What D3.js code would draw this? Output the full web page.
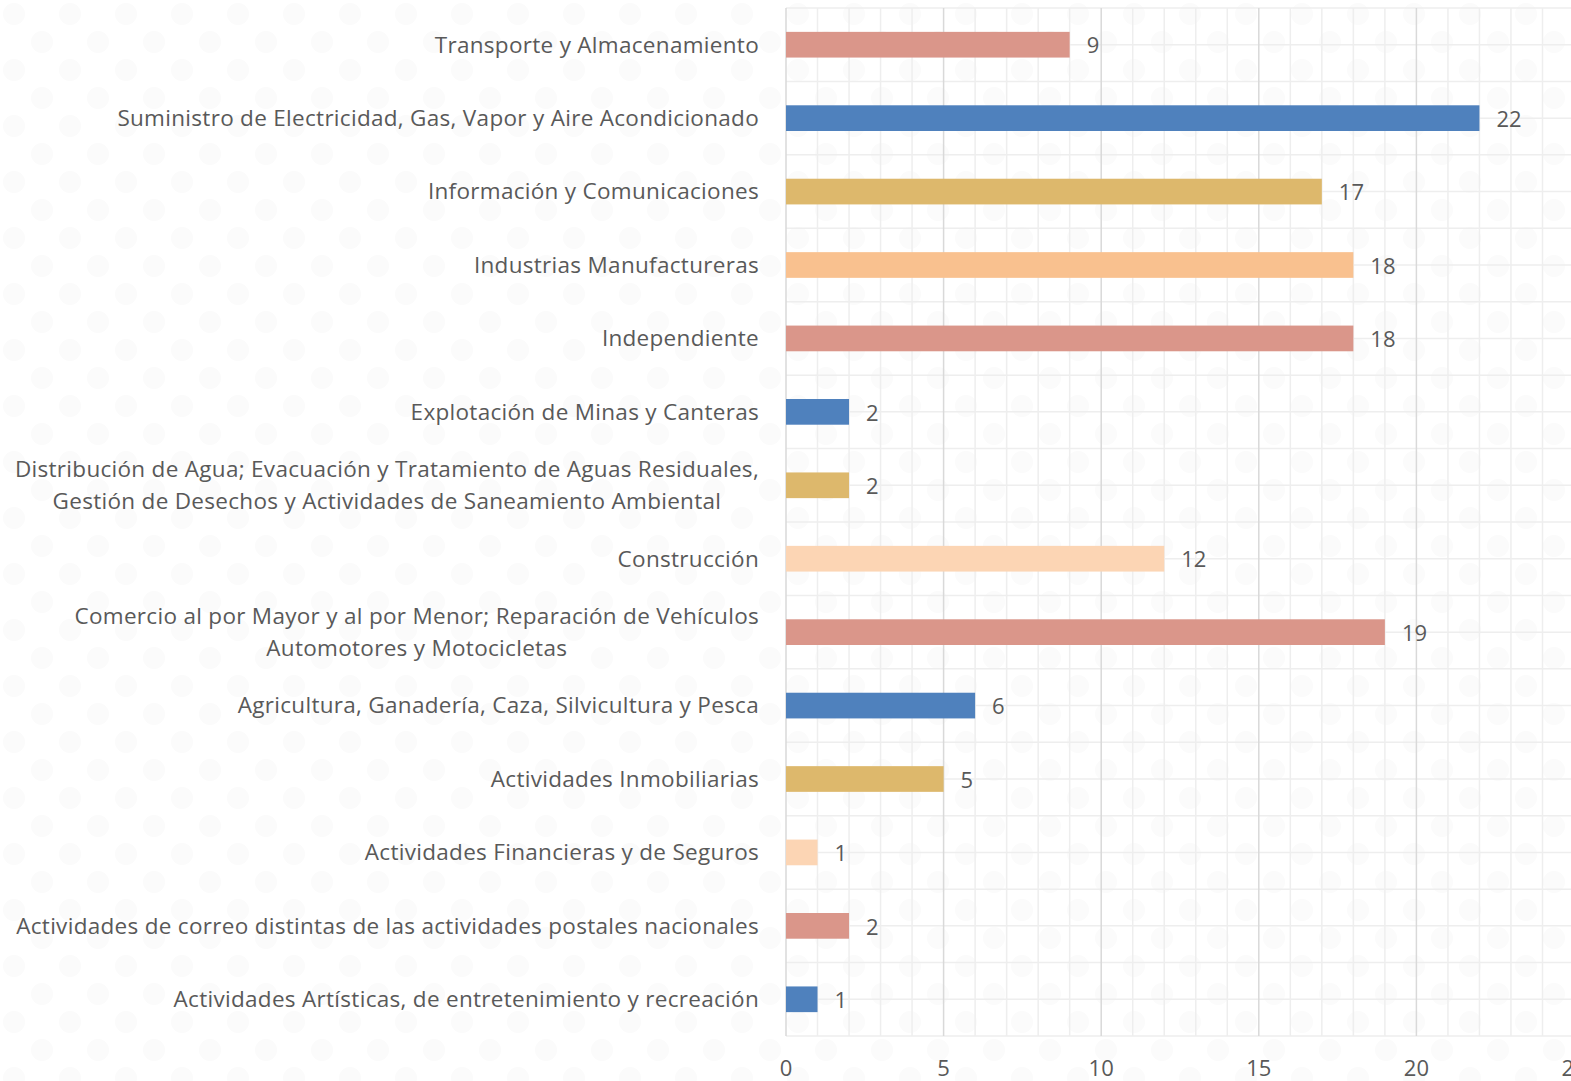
<!DOCTYPE html>
<head>
<meta charset="utf-8">
<title>Sectores</title>
<style>
   body { margin: 0; background: #ffffff; }
   text { font-family: "Open Sans", "Noto Sans", sans-serif; fill: #595959; }
</style>
</head>
<body>
<div id="chartDiv"></div>
<script src="https://d3js.org/d3.v7.min.js"></script>
<script>

   // categories top to bottom, labels split in lines where the original wraps
   var categories = [
	   ["Transporte y Almacenamiento"],
	   ["Suministro de Electricidad, Gas, Vapor y Aire Acondicionado"],
	   ["Información y Comunicaciones"],
	   ["Industrias Manufactureras"],
	   ["Independiente"],
	   ["Explotación de Minas y Canteras"],
	   ["Distribución de Agua; Evacuación y Tratamiento de Aguas Residuales,", "Gestión de Desechos y Actividades de Saneamiento Ambiental"],
	   ["Construcción"],
	   ["Comercio al por Mayor y al por Menor; Reparación de Vehículos", "Automotores y Motocicletas"],
	   ["Agricultura, Ganadería, Caza, Silvicultura y Pesca"],
	   ["Actividades Inmobiliarias"],
	   ["Actividades Financieras y de Seguros"],
	   ["Actividades de correo distintas de las actividades postales nacionales"],
	   ["Actividades Artísticas, de entretenimiento y recreación"]
   ];
   var values = [9, 22, 17, 18, 18, 2, 2, 12, 19, 6, 5, 1, 2, 1];
   var barColors = ["#DA968A", "#4F81BD", "#DDB86C", "#F9C18F", "#DA968A", "#4F81BD", "#DDB86C",
					"#FCD5B4", "#DA968A", "#4F81BD", "#DDB86C", "#FCD5B4", "#DA968A", "#4F81BD"];
   var xTicks = [0, 5, 10, 15, 20, 25];

   var width = 1571, height = 1081;
   var plotLeft = 786, plotTop = 8, plotBottom = 1036;

   var svg = d3.select("#chartDiv").append("svg")
	   .attr("width", width)
	   .attr("height", height);

   // faint dotted background
   var pat = svg.append("defs").append("pattern")
	   .attr("id", "dots")
	   .attr("width", 56).attr("height", 56)
	   .attr("patternUnits", "userSpaceOnUse");
   pat.append("circle").attr("cx", 14).attr("cy", 14).attr("r", 11).attr("fill", "#fbfbfb");
   pat.append("circle").attr("cx", 42).attr("cy", 42).attr("r", 11).attr("fill", "#fbfbfb");
   svg.append("rect").attr("width", width).attr("height", height).attr("fill", "url(#dots)");

   var x = d3.scaleLinear().domain([0, 25]).range([plotLeft, plotLeft + 25 * 31.52]);
   var y = d3.scaleBand()
	   .domain(d3.range(categories.length))
	   .range([plotTop, plotBottom])
	   .paddingInner(0.65)
	   .paddingOuter(0.325);
   var yStep = (plotBottom - plotTop) / categories.length;

   var grid = svg.append("g");

   // horizontal grid every half category
   grid.selectAll("line.h")
	   .data(d3.range(categories.length * 2 + 1))
	   .enter().append("line")
	   .attr("x1", plotLeft).attr("x2", width)
	   .attr("y1", function(d) { return plotTop + d * yStep / 2; })
	   .attr("y2", function(d) { return plotTop + d * yStep / 2; })
	   .attr("stroke", "#eeeeee")
	   .attr("stroke-width", 1.5);

   // vertical grid, major every 5
   grid.selectAll("line.v")
	   .data(d3.range(0, 26))
	   .enter().append("line")
	   .attr("x1", function(d) { return x(d); })
	   .attr("x2", function(d) { return x(d); })
	   .attr("y1", plotTop).attr("y2", plotBottom)
	   .attr("stroke", function(d) { return d % 5 === 0 ? "#d9d9d9" : "#eeeeee"; })
	   .attr("stroke-width", 1.5);

   // bars
   svg.selectAll("rect.bar")
	   .data(values)
	   .enter().append("rect")
	   .attr("class", "bar")
	   .attr("x", x(0))
	   .attr("y", function(d, i) { return y(i); })
	   .attr("width", function(d) { return x(d) - x(0); })
	   .attr("height", y.bandwidth())
	   .attr("fill", function(d, i) { return barColors[i]; });

   // value labels
   svg.selectAll("text.val")
	   .data(values)
	   .enter().append("text")
	   .attr("x", function(d) { return x(d) + 17; })
	   .attr("y", function(d, i) { return y(i) + y.bandwidth() / 2 + 1; })
	   .attr("dy", "0.35em")
	   .style("font-size", "22px")
	   .text(function(d) { return d; });

   // category labels
   var labels = svg.selectAll("g.lab")
	   .data(categories)
	   .enter().append("g")
	   .attr("transform", function(d, i) { return "translate(759," + (y(i) + y.bandwidth() / 2) + ")"; });

   labels.each(function(lines) {
	   var g = d3.select(this);
	   var lh = 32;
	   var t = g.append("text")
		   .style("font-size", "22.5px")
		   .style("letter-spacing", "0.3px")
		   .attr("text-anchor", "end");
	   lines.forEach(function(s, k) {
		   t.append("tspan")
			   .attr("x", 0)
			   .attr("y", (k - (lines.length - 1) / 2) * lh)
			   .attr("dy", "0.35em")
			   .text(s);
	   });
	   if (lines.length > 1) {
		   // center the lines of a wrapped label within its block
		   var w = t.node().getBBox().width;
		   t.attr("text-anchor", "middle");
		   t.selectAll("tspan").attr("x", -w / 2);
	   }
   });

   // x axis tick labels
   svg.selectAll("text.tick")
	   .data(xTicks)
	   .enter().append("text")
	   .attr("x", function(d) { return x(d); })
	   .attr("y", 1068)
	   .attr("dy", "0.35em")
	   .attr("text-anchor", "middle")
	   .style("font-size", "22px")
	   .text(function(d) { return d; });

</script>
</body>
